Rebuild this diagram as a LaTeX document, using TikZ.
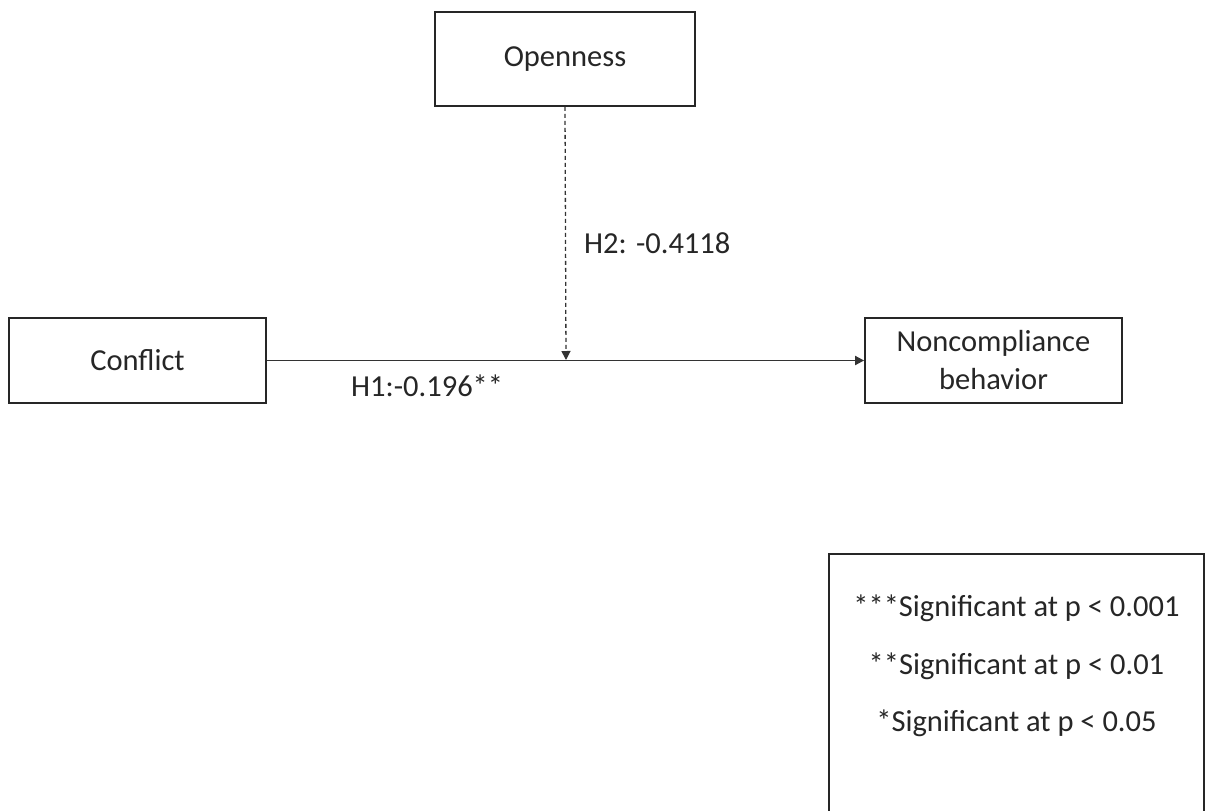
\documentclass[tikz,border=0pt]{standalone}
\usepackage{fontspec}
\setmainfont{Carlito}
\usetikzlibrary{arrows.meta}
\begin{document}
\begin{tikzpicture}[x=1pt,y=-1pt,
  every node/.style={text=black!85, font=\fontsize{30.5}{38}\selectfont},
  varbox/.style={draw=black!85, line width=1.8pt, inner sep=0pt, align=center},
  conn/.style={draw=black!80, line width=1.8pt},
  tip/.style={-{Triangle[length=9pt,width=9pt]}},
  lbl/.style={anchor=west, inner sep=0pt}]
\clip (0,0) rectangle (1211,811);
\fill[white] (0,0) rectangle (1211,811);
\node[varbox, minimum width=260pt, minimum height=94pt] (open) at (565,59) {Openness};
\node[varbox, minimum width=257pt, minimum height=85pt] (conf) at (137.5,360.5) {Conflict};
\node[varbox, minimum width=257pt, minimum height=85pt] (nc) at (993.5,360.5) {Noncompliance\\behavior};
\coordinate (m) at (566,360);
\draw[conn, tip] (conf.east) -- (nc.west);
\draw[conn, tip, line width=1.3pt, dash pattern=on 4pt off 3pt] (open.south) -- (m);
\node[lbl] (h2) at (584,243) {H2: -0.4118};
\node[lbl] (h1) at (351,386) {H1:-0.196**};
\node[draw=black!85, line width=1.8pt, minimum width=375pt, minimum height=280pt, inner sep=0pt] (leg) at (1016.5,694) {};
\node (l1) at (1016.5,608) {***Significant at p < 0.001};
\node (l2) at (1016.5,666) {**Significant at p < 0.01};
\node (l3) at (1016.5,723) {*Significant at p < 0.05};
\end{tikzpicture}
\end{document}
